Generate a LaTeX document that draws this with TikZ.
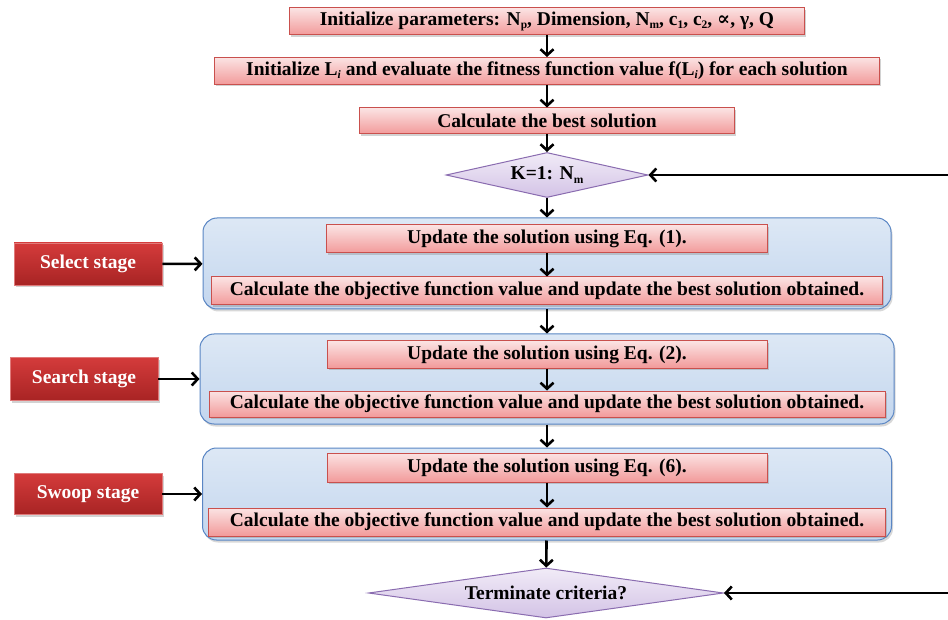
\documentclass[tikz,border=0pt]{standalone}
\usepackage{fontspec}
\setmainfont{Liberation Serif}
\newfontfamily\dvs{DejaVu Serif}
\usetikzlibrary{shapes.geometric,arrows.meta,shadows}
\definecolor{pkborder}{HTML}{C9504D}
\definecolor{pktop}{HTML}{FBE3E3}
\definecolor{pkbot}{HTML}{F29A9A}
\definecolor{blborder}{HTML}{5A86C4}
\definecolor{bltop}{HTML}{DDE8F5}
\definecolor{blbot}{HTML}{C3D6EE}
\definecolor{vioborder}{HTML}{8A6CB0}
\definecolor{viotop}{HTML}{F1EBF7}
\definecolor{viobot}{HTML}{D3C3E6}
\definecolor{rdtop}{HTML}{D43B3B}
\definecolor{rdbot}{HTML}{A82424}
\definecolor{rdborder}{HTML}{E07A7A}
\newcommand\mysub[1]{\raisebox{-0.35ex}{\fontsize{11.5}{12}\selectfont #1}}
\tikzset{
  pinkbox/.style={draw=pkborder, line width=1pt, top color=pktop, bottom color=pkbot,
    inner sep=0pt, minimum height=27pt, text=black,
    drop shadow={opacity=0.35, shadow xshift=1.5pt, shadow yshift=-2pt}},
  groupbox/.style={draw=blborder, line width=1pt, top color=bltop, bottom color=blbot,
    rounded corners=14pt, inner sep=0pt,
    drop shadow={opacity=0.3, shadow xshift=1.5pt, shadow yshift=-2.5pt}},
  decbox/.style={diamond, draw=vioborder, line width=1pt, top color=viotop, bottom color=viobot,
    inner sep=0pt, text=black},
  stagebox/.style={draw=rdborder, line width=0.8pt, top color=rdtop, bottom color=rdbot,
    text=white, inner sep=0pt, minimum width=148pt, minimum height=42pt,
    drop shadow={opacity=0.35, shadow xshift=1.5pt, shadow yshift=-2.5pt}},
  arr/.style={line width=2.6pt, -{Straight Barb[length=6pt,width=13pt,line width=2.6pt]}},
}
\begin{document}
\begin{tikzpicture}[x=1pt,y=-1pt, font=\fontsize{19.5}{21}\selectfont\bfseries]
\useasboundingbox[fill=white] (0,0) rectangle (948,620);

% top boxes
\node[pinkbox, minimum width=515pt] (b1) at (547,21.5)
  {Initialize parameters: N\mysub{p}, Dimension, N\mysub{m}, c\mysub{1}, c\mysub{2}, {\dvs ∝}, γ, Q};
\node[pinkbox, minimum width=665pt] (b2) at (547,71)
  {Initialize L\mysub{\itshape i} and evaluate the fitness function value f(L\mysub{\itshape i}) for each solution};
\node[pinkbox, minimum width=375pt, minimum height=26pt] (b3) at (547,121)
  {Calculate the best solution};
\node[decbox, aspect=4.5, minimum width=202pt, minimum height=45pt] (d1) at (547,175)
  {K=1: N\mysub{m}};

% group 1
\node[groupbox, minimum width=688pt, minimum height=91pt] (g1) at (547,263.5) {};
\node[pinkbox, minimum width=441pt, minimum height=28pt] (g1a) at (547,239)
  {Update the solution using Eq. (1).};
\node[pinkbox, minimum width=671pt, minimum height=28pt] (g1b) at (547,291)
  {Calculate the objective function value and update the best solution obtained.};

% group 2
\node[groupbox, minimum width=694pt, minimum height=90pt] (g2) at (547,379) {};
\node[pinkbox, minimum width=440pt, minimum height=27pt] (g2a) at (547,354.5)
  {Update the solution using Eq. (2).};
\node[pinkbox, minimum width=676pt, minimum height=26pt] (g2b) at (547,404)
  {Calculate the objective function value and update the best solution obtained.};

% group 3
\node[groupbox, minimum width=689pt, minimum height=92pt] (g3) at (547,494) {};
\node[pinkbox, minimum width=440pt, minimum height=29pt] (g3a) at (547,467.5)
  {Update the solution using Eq. (6).};
\node[pinkbox, minimum width=677pt, minimum height=28pt] (g3b) at (547,522)
  {Calculate the objective function value and update the best solution obtained.};

\node[decbox, aspect=7.1, minimum width=355pt, minimum height=50pt] (d2) at (546,593)
  {Terminate criteria?};

% stages
\node[stagebox] (s1) at (88,264) {Select stage};
\node[stagebox, minimum height=43pt] (s2) at (84,379) {Search stage};
\node[stagebox, minimum height=41pt] (s3) at (88,494) {Swoop stage};

% connectors
\draw[arr] (b1) -- (b2);
\draw[arr] (b2) -- (b3);
\draw[arr] (b3) -- (d1);
\draw[arr] (d1) -- (g1);
\draw[arr] (g1a) -- (g1b);
\draw[arr] (g1) -- (g2);
\draw[arr] (g2a) -- (g2b);
\draw[arr] (g2) -- (g3);
\draw[arr] (g3a) -- (g3b);
\draw[arr] (g3) -- (d2);
\draw[arr] (s1) -- (g1);
\draw[arr] (s2) -- (g2);
\draw[arr] (s3) -- (g3);
\coordinate (f1) at (948,175);
\coordinate (f2) at (948,593);
\draw[arr] (f1) -- (d1.east);
\draw[arr] (f2) -- (d2.east);
\end{tikzpicture}
\end{document}
